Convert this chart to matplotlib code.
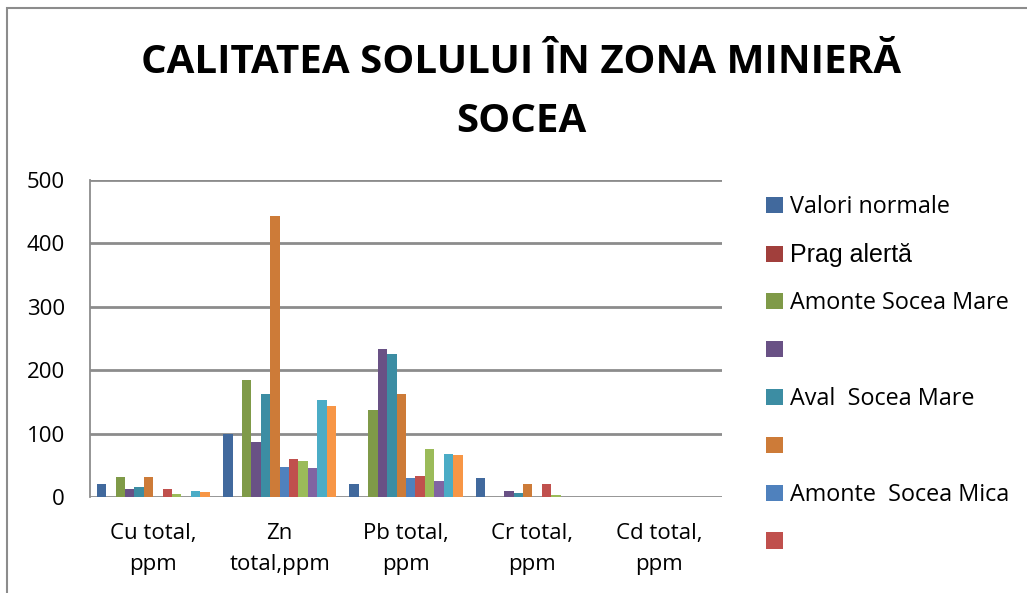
import numpy as np
import matplotlib.pyplot as plt
from matplotlib.patches import Rectangle

categories = ['Cu total,\nppm', 'Zn\ntotal,ppm', 'Pb total,\nppm', 'Cr total,\nppm', 'Cd total,\nppm']
series_names = ['Valori normale', 'Prag alertă', 'Amonte Socea Mare', '', 'Aval  Socea Mare', '',
                'Amonte  Socea Mica', '', '', '', '', '']

s1 = [20, 100, 20, 30, 0]
s2 = [0, 0, 0, 0, 0]
s3 = [31, 184, 137, 0, 0]
s4 = [12, 86, 233, 9, 0]
s5 = [16, 162, 225, 7, 0]
s6 = [31, 443, 163, 20, 0]
s7 = [0, 47, 30, 0, 0]
s8 = [13, 60, 33, 21, 0]
s9 = [5, 56, 75, 3, 0]
s10 = [0, 46, 26, 0, 0]
s11 = [10, 153, 68, 0, 0]
s12 = [8, 144, 67, 0, 0]
values = [s1, s2, s3, s4, s5, s6, s7, s8, s9, s10, s11, s12]

colors = ['#41699D', '#A13F3C', '#7F9A48', '#695185', '#3C8DA3', '#CD7B38',
          '#4F81BD', '#C0504D', '#9BBB59', '#8064A2', '#4BACC6', '#F79646']

plt.rcParams['font.family'] = ['Open Sans', 'DejaVu Sans']

fig = plt.figure(figsize=(10.27, 5.93), dpi=100)
ax = fig.add_axes([90/1027, 1-497/593, 632/1027, 317/593])

x = np.arange(len(categories))
w = 0.0745
handles = []
for i, (vals, col, name) in enumerate(zip(values, colors, series_names)):
    b = ax.bar(x + (i - 5.5) * w, vals, width=w, color=col, label=name, zorder=3)
    handles.append(b)

ax.set_xlim(-0.5, 4.5)
ax.set_ylim(0, 500)
ax.set_yticks(np.arange(0, 501, 100))
ax.yaxis.grid(True, color='#8c8c8c', lw=2)
ax.set_axisbelow(True)
for s in ['top', 'right', 'bottom']:
    ax.spines[s].set_visible(False)
ax.spines['left'].set_color('#8c8c8c')
ax.spines['left'].set_linewidth(1.3)
ax.tick_params(axis='y', length=0, pad=18, labelsize=16)
ax.tick_params(axis='x', length=0, pad=19, labelsize=16)
ax.set_xticks(x)
ax.set_xticklabels(categories, linespacing=1.62)

fig.text(521/1027, 1-92/593, 'CALITATEA SOLULUI ÎN ZONA MINIERĂ\nSOCEA', ha='center', va='center',
         fontsize=29, fontweight='bold', linespacing=1.66)

leg = fig.legend(handles[:8], series_names[:8], loc='upper left', bbox_to_anchor=(757/1027, 1-186/593),
                 frameon=False, fontsize=16.8, labelspacing=1.025, handlelength=0.7, handleheight=0.7,
                 handletextpad=0.3, borderaxespad=0)
leg.get_texts()[1].set_fontfamily(['Liberation Sans', 'DejaVu Sans'])
leg.get_texts()[1].set_fontsize(18)

fig.patches.append(Rectangle((7/1027, -0.1), 1.2, 1-8/593+0.1, transform=fig.transFigure,
                             fill=False, edgecolor='#8c8c8c', lw=1.5))

fig.savefig('out.png', dpi=100)
